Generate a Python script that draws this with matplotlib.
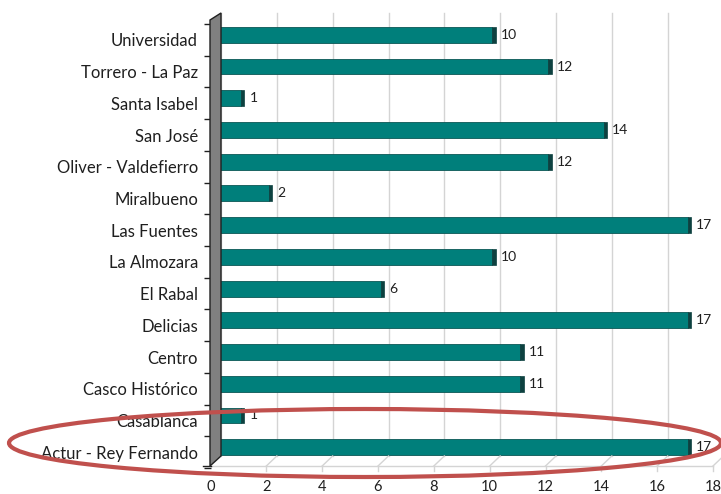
import matplotlib
matplotlib.use("Agg")
import matplotlib.pyplot as plt
import matplotlib.transforms as mtransforms
from matplotlib.patches import Polygon, Ellipse
from matplotlib.lines import Line2D
import numpy as np

# ---- data ----
categories = ["Universidad", "Torrero - La Paz", "Santa Isabel", "San José",
              "Oliver - Valdefierro", "Miralbueno", "Las Fuentes", "La Almozara",
              "El Rabal", "Delicias", "Centro", "Casco Histórico", "Casablanca",
              "Actur - Rey Fernando"]
values = [10, 12, 1, 14, 12, 2, 17, 10, 6, 17, 11, 11, 1, 17]
xticks = list(range(0, 19, 2))

W, H, DPI = 721, 494, 100
plt.rcParams['font.family'] = ['Lato', 'DejaVu Sans']
fig = plt.figure(figsize=(W / DPI, H / DPI), dpi=DPI)

ax_l, ax_r, ax_t, ax_b = 210.5, 713.0, 24.0, 468.0
ax = fig.add_axes([ax_l / W, 1 - ax_b / H, (ax_r - ax_l) / W, (ax_b - ax_t) / H])
ax.set_xlim(0, 18)
ax.set_ylim(len(categories) - 0.5, -0.5)
for s in ax.spines.values():
    s.set_visible(False)

def off(dx, dy):
    # dx right, dy down, in pixels
    return mtransforms.ScaledTranslation(dx / DPI, -dy / DPI, fig.dpi_scale_trans)

# pixel transform (figure pixels, y down)
pix = mtransforms.Affine2D().scale(1 / DPI, -1 / DPI).translate(0, H / DPI) + fig.dpi_scale_trans

ypos = np.arange(len(categories))
text_col = '#1f1f1f'

# background wall
wall = Polygon([(ax_l - 0.5, 20), (ax_l + 10.5, 13), (ax_l + 10.5, 456), (ax_l - 0.5, 466)],
               closed=True, facecolor='#808080', edgecolor='#202020', lw=1.0,
               transform=pix, zorder=1, clip_on=False)
fig.add_artist(wall)

# gridlines (back plane), floor diagonals and ticks
grid_tr = mtransforms.blended_transform_factory(ax.transData, pix)
for v in xticks:
    ax.add_line(Line2D([v, v], [13, 456], transform=grid_tr + off(10.5, 0),
                       color='#d4d4d4', lw=1.0, zorder=0.5, clip_on=False))
    if v > 0:
        x0 = ax.transData.transform((v, 0))[0]
        fig.add_artist(Line2D([x0, x0 + 10.5], [466, 456], transform=pix,
                              color='#d4d4d4', lw=1.0, zorder=0.5))
        fig.add_artist(Line2D([x0, x0], [466, 471], transform=pix,
                              color='#d4d4d4', lw=1.0, zorder=0.5))
# floor front edge
fig.add_artist(Line2D([ax_l, ax_r], [466, 466], transform=pix, color='#d4d4d4', lw=1.0, zorder=0.5))
fig.add_artist(Line2D([ax_l - 8, ax_l], [466, 466], transform=pix, color='#202020', lw=1.0, zorder=2))

# bars
bar_off = off(2.5, -5)
bh = 0.5
ax.barh(ypos, values, height=bh, color='#007f7b', edgecolor='#0b5755', lw=0.6,
        transform=ax.transData + bar_off, zorder=3)
cap_w = 3.5 / ((ax_r - ax_l) / 18)
ax.barh(ypos, [cap_w] * len(values), left=values, height=bh, color='#0d4140',
        edgecolor='#0d4140', lw=0.5, transform=ax.transData + bar_off, zorder=3)

# value labels
for i, v in enumerate(values):
    ax.annotate(str(v), xy=(v, i), xytext=(11, 5), textcoords='offset pixels',
                ha='left', va='center', fontsize=10, color=text_col, zorder=4)

# axes ticks
ax.set_yticks(ypos)
ax.set_yticklabels(categories, fontsize=12, color=text_col)
ax.set_yticks(np.arange(-0.5, len(categories), 1), minor=True)
ax.tick_params(axis='y', which='major', length=0, pad=9)
ax.tick_params(axis='y', which='minor', length=5, width=1.0, color='#202020', direction='out')
ax.set_xticks(xticks)
ax.set_xticklabels([str(t) for t in xticks], fontsize=10.5, color=text_col)
ax.tick_params(axis='x', length=0, pad=8.5)
ax.grid(False)

# highlight ellipse
ell = Ellipse((365, 443), 712, 68, transform=pix, fill=False,
              edgecolor='#c0504d', lw=3.0, zorder=10, clip_on=False)
fig.add_artist(ell)

fig.savefig('out.png', dpi=DPI, facecolor='white')
